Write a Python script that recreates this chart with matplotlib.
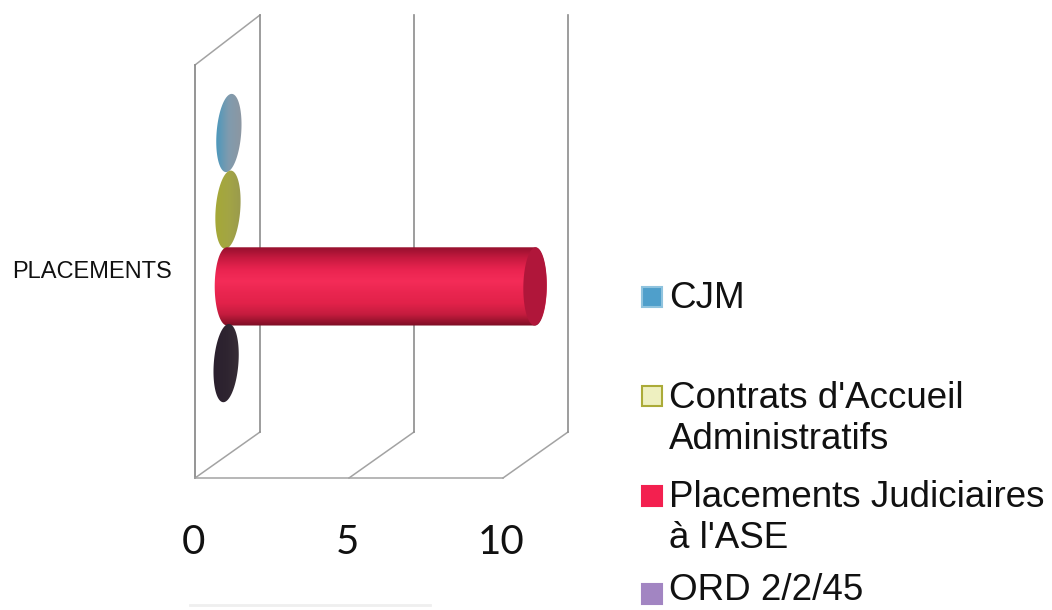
import numpy as np
import matplotlib
matplotlib.use('Agg')
import matplotlib.pyplot as plt
from matplotlib.colors import LinearSegmentedColormap
from matplotlib.patches import Polygon, Rectangle

# Datos
categoria = 'PLACEMENTS'
series = ['CJM', "Contrats d'Accueil\nAdministratifs", "Placements Judiciaires\nà l'ASE", 'ORD 2/2/45']
valores = [0, 0, 10, 0]
ticks = [0, 5, 10]

W, H = 1052, 610
px_x = 30.8   # pixels por unidad
px_y = 76.7   # pixels por serie
fondo = 65 / px_x  # profundidad del cuadro 3D
medio = fondo / 2

fig = plt.figure(figsize=(W / 100, H / 100), dpi=100, facecolor='white')

# Eje de pixeles para el cuadro y los textos
fr = fig.add_axes([0, 0, 1, 1])
fr.set_xlim(0, W)
fr.set_ylim(H, 0)
fr.axis('off')

# Eje de datos: x = valor, y = numero de serie
ax = fig.add_axes([0, 0, 1, 1])
ax.patch.set_alpha(0)
ax.axis('off')
xlim = (-195 / px_x, (W - 195) / px_x)
ylim = ((H - 133) / px_y, -133 / px_y)


def elipse(cx, cy, a=0.40, b=0.51, incl=0.09):
    t = np.linspace(0, 2 * np.pi, 120)
    return np.column_stack([cx + a * np.cos(t) + incl * np.sin(-t), cy + b * np.sin(t)])


def degradado(colores, poly, extent, vertical=False):
    cmap = LinearSegmentedColormap.from_list('g', colores)
    g = np.linspace(0, 1, 128)
    g = g.reshape(-1, 1) if vertical else g.reshape(1, -1)
    im = ax.imshow(g, cmap=cmap, extent=extent, aspect='auto', origin='upper', zorder=3, interpolation='bilinear')
    p = Polygon(poly, closed=True, facecolor='none', edgecolor='none', transform=ax.transData)
    ax.add_patch(p)
    im.set_clip_path(p)


# Lineas del cuadro
gris = '#a3a3a3'
for t in ticks:
    x0 = 195 + t * px_x
    fr.plot([x0, x0 + 65], [478, 432], color=gris, lw=1.1)
    if t == 0:
        fr.plot([x0, x0 + 65], [65, 15], color=gris, lw=1.1)
        fr.plot([x0, x0], [65, 478], color='#8c8c8c', lw=1.3)
    fr.plot([x0 + 65, x0 + 65], [15, 432], color='#8c8c8c', lw=1.2)
    fr.text(x0 - 1.5, 543, str(t), fontsize=29, family='Lato', color='#111111', ha='center', va='center')
fr.plot([195, 195 + ticks[-1] * px_x], [478, 478], color=gris, lw=1.1)
fr.plot([190, 430], [605, 605], color='#efefef', lw=2)

fr.text(92, 272, categoria, fontsize=17, family='Liberation Sans', color='#111111', ha='center', va='center')

# Discos y barra
disco = {0: ['#3f97c0', '#7f9bae', '#8f96a0'],
         1: ['#a6a935', '#a3a545', '#98984f'],
         3: ['#2a1f2e', '#2e2430', '#3a3038']}
for i, v in enumerate(valores):
    cx = medio + (1.5 - i) * 0.03
    if v == 0:
        poly = elipse(cx, i)
        degradado(disco[i], poly, (cx - 0.5, cx + 0.5, i + 0.55, i - 0.55))
    else:
        t = np.linspace(-np.pi / 2, np.pi / 2, 60)
        der = np.column_stack([cx + v + 0.38 * np.cos(t), i + 0.51 * np.sin(t)])
        izq = np.column_stack([cx - 0.40 * np.cos(t[::-1]), i + 0.51 * np.sin(t[::-1])])
        cuerpo = np.vstack([der, izq])
        degradado(['#96102e', '#c81a40', '#ea2450', '#f42c58', '#ea2650', '#e2224a', '#c41c3e', '#7c0e24'], cuerpo,
                  (cx - 0.5, cx + v + 0.5, i + 0.51, i - 0.51), vertical=True)
        ax.add_patch(Polygon(elipse(cx + v, i, a=0.38, incl=0.02), closed=True, facecolor='#b0163a',
                             edgecolor='none', zorder=4))

ax.set_xlim(*xlim)
ax.set_ylim(*ylim)

# Leyenda
colores_ley = [('#4f9fcb', '#8fc3de'), ('#eef0c0', '#abab38'), ('#f3204f', '#f3204f'), ('#a285c2', '#a285c2')]
leyenda_y = [297, 396, 496, 594]
texto_y = [299, 419, 518, 591]
for nombre, (c, borde), y, ty in zip(series, colores_ley, leyenda_y, texto_y):
    fr.add_patch(Rectangle((642, y - 10), 20, 20, facecolor=c, edgecolor=borde, lw=1.5))
    fr.text(669, ty, nombre, fontsize=26.5, family='Liberation Sans', color='#111111',
            ha='left', va='center', linespacing=1.25)

fig.savefig('out.png', dpi=100)
